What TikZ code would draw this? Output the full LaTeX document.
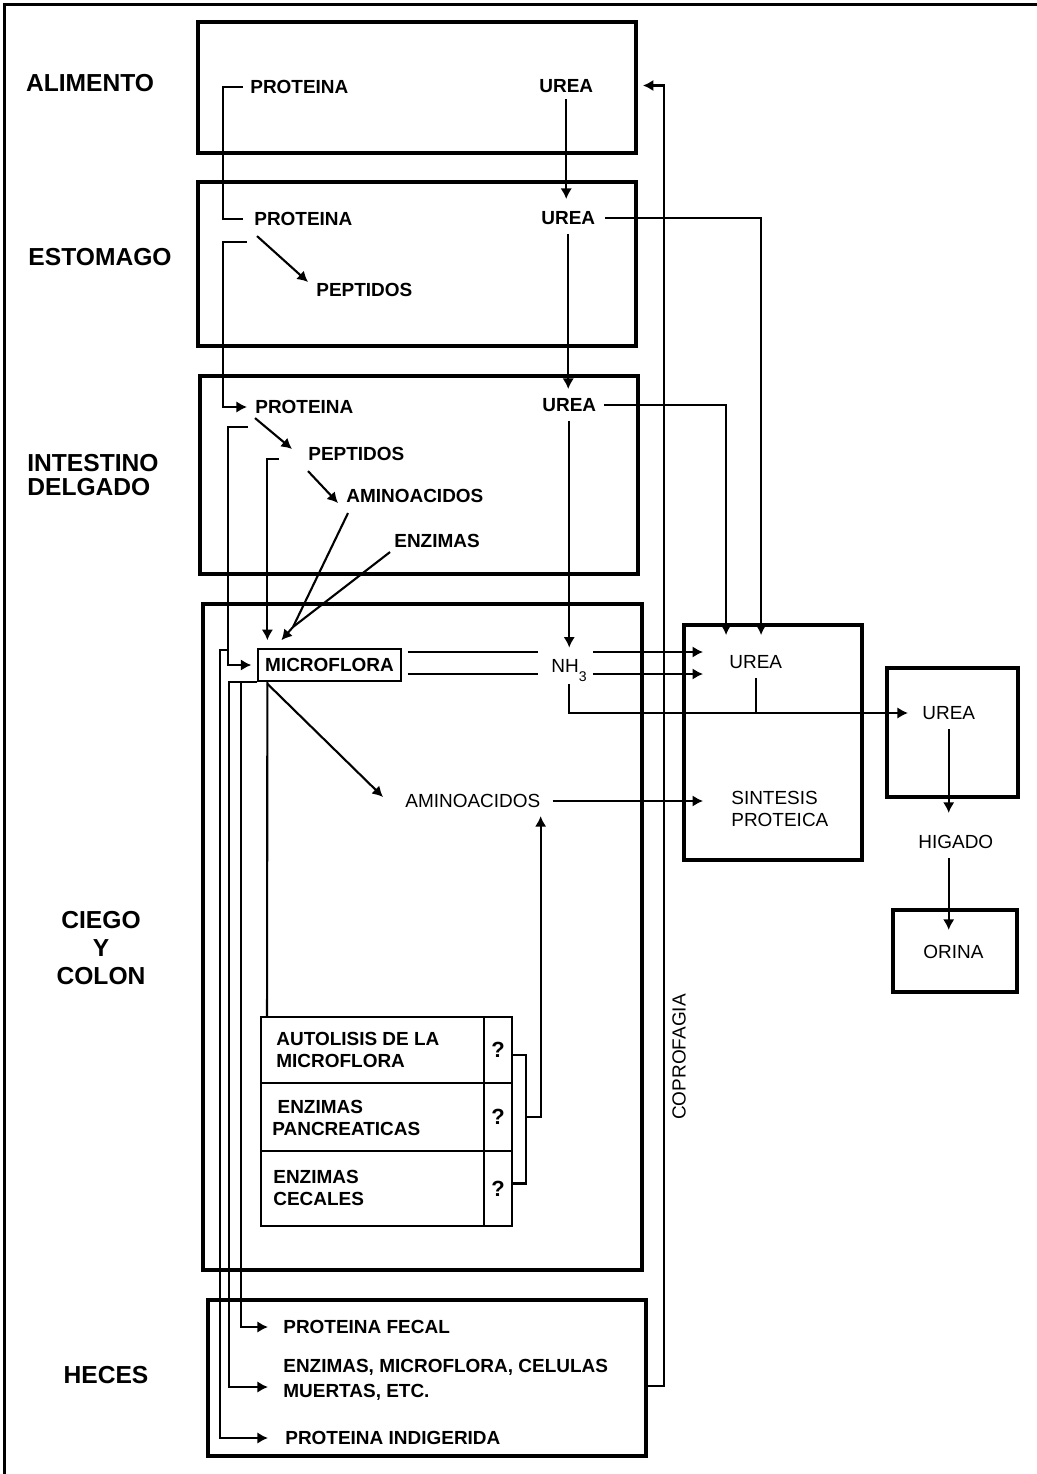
\documentclass[tikz,border=0pt]{standalone}
\usepackage{fontspec}
\setmainfont{Liberation Sans}
\usetikzlibrary{calc}
\usetikzlibrary{positioning}
\usetikzlibrary{fit}
\usetikzlibrary{arrows.meta}
\tikzset{organ/.style={draw, line width=2.2pt, inner sep=0pt},
  cell/.style={draw, line width=1.1pt, inner sep=0pt},
  region/.style={font=\bfseries\fontsize{14}{16}\selectfont, inner sep=0pt, align=center},
  tag/.style={font=\bfseries\fontsize{10.8}{13}\selectfont, inner sep=0pt, anchor=west, align=left},
  lite/.style={font=\fontsize{10.8}{12.5}\selectfont, inner sep=0pt, anchor=west, align=left},
  link/.style={line width=1.2pt},
  flow/.style={line width=1.2pt, -{Latex[length=6pt, width=6.5pt]}}}

\begin{document}
\begin{tikzpicture}[x=0.02cm, y=0.02cm]
  \useasboundingbox (0,0) rectangle (1037,-1474);
  \draw[line width=2pt] (4.5,-1474) -- (4.5,-4.5) -- (1037,-4.5);

  % regiones
  \node[region] (alimento) at (90,-83) {ALIMENTO};
  \node[region] (estomago) at (100,-257) {ESTOMAGO};
  \node[region, anchor=west, align=left, font=\bfseries\fontsize{14}{14.2}\selectfont] (intestino) at (27,-475) {INTESTINO\\DELGADO};
  \node[region, font=\bfseries\fontsize{14}{15.9}\selectfont] (ciego) at (101,-948) {CIEGO\\Y\\COLON};
  \node[region] (heces) at (106,-1375) {HECES};

  % cajas
  \node[organ, fit={(198,-22) (636,-153)}] (alim) {};
  \node[organ, fit={(198,-182) (636,-346)}] (esto) {};
  \node[organ, fit={(200,-376) (638,-574)}] (intd) {};
  \node[organ, fit={(203,-604) (642,-1270)}] (cc) {};
  \node[organ, fit={(208,-1300) (646,-1456)}] (hec) {};
  \node[organ, fit={(684,-625) (862,-860)}] (hep) {};
  \node[organ, fit={(887,-668) (1018,-797)}] (ren) {};
  \node[organ, fit={(893,-910) (1017,-992)}] (ori) {};

  \node[tag] (protA) at (250,-87) {PROTEINA};
  \node[tag] (ureaA) at (539,-86) {UREA};
  \node[tag] (protE) at (254,-219) {PROTEINA};
  \node[tag] (ureaE) at (541,-218) {UREA};
  \node[tag] (pepE) at (316,-290) {PEPTIDOS};
  \node[tag] (protI) at (255,-407) {PROTEINA};
  \node[tag] (ureaI) at (542,-405) {UREA};
  \node[tag] (pepI) at (308,-454) {PEPTIDOS};
  \node[tag] (aaI) at (346,-496) {AMINOACIDOS};
  \node[tag] (enzI) at (394,-541) {ENZIMAS};
  \node[tag, draw, line width=1.1pt, minimum width=81pt, minimum height=18pt, anchor=center] (micro) at (329.5,-665) {MICROFLORA};
  \node[lite, anchor=base west] (nh3) at (551,-672) {NH\raisebox{-5.5pt}{\fontsize{8}{8}\selectfont 3}};
  \node[lite] (ureaS) at (729,-662) {UREA};
  \node[lite] (aaC) at (405,-801) {AMINOACIDOS};
  \node[lite] (sint) at (731,-809) {SINTESIS\\PROTEICA};
  \node[lite] (ureaR) at (922,-713) {UREA};
  \node[lite] (higado) at (918,-842) {HIGADO};
  \node[lite] (orina) at (923,-952) {ORINA};
  \node[lite, anchor=center, rotate=90] (copro) at (679,-1057) {COPROFAGIA};

  % tabla
  \node[cell, fit={(261,-1017) (484,-1083)}] (c1) {};
  \node[cell, fit={(261,-1083) (484,-1151)}] (c2) {};
  \node[cell, fit={(261,-1151) (484,-1226)}] (c3) {};
  \node[cell, fit={(484,-1017) (512,-1083)}] (q1) {};
  \node[cell, fit={(484,-1083) (512,-1151)}] (q2) {};
  \node[cell, fit={(484,-1151) (512,-1226)}] (q3) {};
  \node[tag] (auto) at (276,-1050) {AUTOLISIS DE LA\\MICROFLORA};
  \node[tag] (panc) at (272,-1118) {\hspace*{3pt}ENZIMAS\\PANCREATICAS};
  \node[tag] (cec) at (273,-1188) {ENZIMAS\\CECALES};
  \node[tag, anchor=center, font=\bfseries\fontsize{12.5}{12.5}\selectfont] (qa) at (q1) {?};
  \node[tag, anchor=center, font=\bfseries\fontsize{12.5}{12.5}\selectfont] (qb) at (q2) {?};
  \node[tag, anchor=center, font=\bfseries\fontsize{12.5}{12.5}\selectfont] (qc) at (q3) {?};

  \node[tag] (pf) at (283,-1327) {PROTEINA FECAL};
  \node[tag, font=\bfseries\fontsize{10.8}{14}\selectfont] (emc) at (283,-1380) {ENZIMAS, MICROFLORA, CELULAS\\MUERTAS, ETC.};
  \node[tag] (pi) at (285,-1438) {PROTEINA INDIGERIDA};

  % proteina
  \draw[link] ($(protA.west)+(-7,0)$) -- ++(-20,0) |- ($(protE.west)+(-11,0)$);
  \draw[flow] ($(protE.south west)+(3,-10)$) -- ($(pepE.west)+(-8,8)$);
  \draw[flow] ($(protE.west)+(-7,-23)$) -- ++(-24,0) |- ($(protI.west)+(-8,0)$);
  \draw[flow] ($(protI.south west)+(0,-4)$) -- ($(pepI.west)+(-16,5)$);
  \draw[flow] ($(pepI.south west)+(0,-10)$) -- ($(aaI.west)+(-8,-7)$);
  \draw[flow] ($(protI.west)+(-7,-20)$) -- ++(-20,0) |- ($(micro.west)+(-6,0)$);
  \coordinate (split) at ($(protI.west)+(-27,-243)$);
  \draw[flow] (split) -- ++(-8,0) |- ($(pi.west)+(-17,0)$);
  \draw[flow] ($(pepI.west)+(-29,-5)$) -| ($(micro.north west)+(10,8)$);
  \coordinate (meet) at (293,-627);
  \draw[link] ($(aaI.south west)+(2,-10)$) -- (meet);
  \draw[link] ($(enzI.south west)+(-4,-4)$) -- (meet);
  \draw[flow] (meet) -- ($(micro.north west)+(24,8)$);

  % urea
  \draw[flow] ($(ureaA.south)+(0,-6)$) -- ($(ureaA.south |- ureaE.north)+(0,12)$);
  \draw[flow] ($(ureaE.south)+(0,-9)$) -- ($(ureaE.south |- ureaI.north)+(0,9)$);
  \draw[flow] ($(ureaE.east)+(10,0)$) -| ($(hep.north west)+(79,-12)$);
  \draw[flow] ($(ureaI.east)+(8,0)$) -| ($(hep.north west)+(44,-12)$);
  \draw[flow] ($(ureaI.south)+(0,-9)$) -- ($(ureaI.south |- nh3.north)+(0,11)$);

  % microflora
  \draw[link] ($(micro.east)+(6,13)$) -- ($(micro.east -| nh3.west)+(-13,13)$);
  \draw[link] ($(micro.east)+(6,-9)$) -- ($(micro.east -| nh3.west)+(-13,-9)$);
  \draw[flow] ($(micro.east -| nh3.east)+(6,13)$) -- ($(micro.east -| hep.west)+(21,13)$);
  \draw[flow] ($(micro.east -| nh3.east)+(6,-9)$) -- ($(micro.east -| hep.west)+(21,-9)$);
  \draw[flow] ($(ureaI.south |- nh3.south)+(0,-2)$) |- ($(ureaR.west)+(-14,0)$);
  \draw[link] ($(ureaS.south)+(0,-9)$) -- (ureaS.south |- ureaR.west);
  \draw[flow] ($(aaC.east)+(12,0)$) -- ($(aaC.east -| hep.west)+(21,0)$);
  \draw[flow] ($(micro.south west)+(10,-2)$) -- ($(aaC.west)+(-22,4)$);
  \draw[link] ($(c1.north west)+(7,0)$) -- ($(micro.south west)+(10,0)$);
  \draw[flow] (micro.south west) -- ++(-28,0) |- ($(emc.west)+(-15,-7)$);
  \draw[flow] ($(micro.south west)+(-16,0)$) |- ($(pf.west)+(-15,0)$);

  % tabla -> aminoacidos
  \draw[link] ($(q1.east)+(0,-5)$) -- ++(13,0) |- ($(q3.east)+(0,5)$);
  \draw[flow] ($(q2.east)+(13,0)$) -| ($(aaC.south east)+(0,-8)$);

  % coprofagia
  \draw[flow] ($(hec.east)+(0,-8)$) -- ++(16,0) |- ($(alim.east)+(5,2)$);

  % higado y orina
  \draw[flow] ($(ureaR.south)+(0,-9)$) -- ($(ureaR.south |- higado.north)+(0,22)$);
  \draw[flow] ($(ureaR.south |- higado.south)+(0,-9)$) -- ($(ureaR.south |- orina.north)+(0,15)$);
\end{tikzpicture}
\end{document}
